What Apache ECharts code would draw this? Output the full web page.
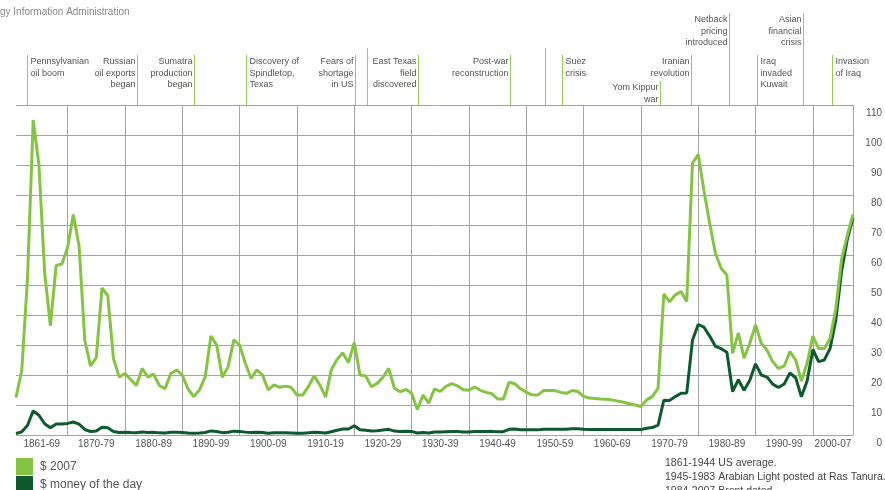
<!DOCTYPE html>
<html><head><meta charset="utf-8">
<script src="https://cdn.jsdelivr.net/npm/echarts@6/dist/echarts.min.js"></script>
<style>html,body{margin:0;padding:0;background:#fff}#c{width:885px;height:490px}</style>
</head><body><div id="c"></div>
<script>
// ---- data ----
const START_YEAR = 1861;
const priceMoneyOfDay = [
  0.49, 1.05, 3.15, 8.06, 6.59, 3.74, 2.41, 3.63, 3.64,
  3.86, 4.34, 3.64, 1.83, 1.17, 1.35, 2.56, 2.42, 1.19, 0.86,
  0.95, 0.86, 0.78, 1.00, 0.84, 0.88, 0.71, 0.67, 0.88, 0.94,
  0.87, 0.67, 0.56, 0.64, 0.84, 1.36, 1.18, 0.79, 0.91, 1.29,
  1.19, 0.96, 0.80, 0.94, 0.86, 0.62, 0.73, 0.72, 0.72, 0.70,
  0.61, 0.61, 0.74, 0.95, 0.81, 0.64, 1.10, 1.56, 1.98, 2.01,
  3.07, 1.73, 1.61, 1.34, 1.43, 1.68, 1.88, 1.30, 1.17, 1.27,
  1.19, 0.65, 0.87, 0.67, 1.00, 0.97, 1.09, 1.18, 1.13, 1.02,
  1.02, 1.14, 1.19, 1.20, 1.21, 1.05, 1.12, 1.90, 1.99, 1.78,
  1.71, 1.71, 1.71, 1.93, 1.93, 1.93, 1.93, 1.90, 2.08, 2.08,
  1.90, 1.80, 1.80, 1.80, 1.80, 1.80, 1.80, 1.80, 1.80, 1.80,
  1.80, 2.24, 2.48, 3.29, 11.58, 11.53, 12.80, 13.92, 14.02, 31.61,
  36.83, 35.93, 32.97, 29.55, 28.78, 27.56, 14.43, 18.44, 14.92, 18.23,
  23.73, 20.00, 19.32, 16.97, 15.82, 17.02, 20.67, 19.09, 12.72, 17.97,
  28.50, 24.44, 25.02, 28.83, 38.27, 54.52, 65.14, 72.39
];
const price2007 = [
  12.5, 21.5, 52, 105, 90, 54, 36.5, 56.5, 57,
  62.5, 73.5, 63, 31.5, 23, 25.8, 49, 46.5, 25.5, 19.3,
  20.5, 18.5, 16.5, 22.2, 19.3, 20.3, 16.5, 15.4, 20.5, 21.7,
  20, 15.4, 12.8, 15, 19.4, 33, 30, 19.2, 22.8, 31.7,
  30, 23.9, 18.9, 21.7, 20, 15, 16.7, 15.9, 16.3, 15.9,
  13.3, 13.3, 16.1, 19.7, 16.7, 12.6, 21.7, 25.2, 27.4, 24.1,
  30.8, 20, 19.7, 16.1, 17.2, 19.2, 22.2, 15.6, 14.4, 15.2,
  14, 8.5, 13.3, 10.6, 15.4, 14.5, 16.2, 17.1, 16.4, 15.1,
  14.9, 16, 14.9, 14.2, 13.8, 12, 12, 17.6, 17.1, 15.4,
  14.3, 13.4, 13.3, 14.8, 14.8, 14.8, 14.2, 13.9, 14.8, 14.5,
  12.9, 12.3, 12.2, 12, 11.9, 11.7, 11.3, 10.9, 10.4, 10,
  9.5, 11.7, 12.8, 15.6, 47, 44.4, 46.7, 47.8, 44.5, 90.6,
  93.5, 81.5, 70.6, 60.6, 55.6, 53.3, 27.2, 34, 25.6, 30.6,
  36.7, 30.6, 28.3, 24.4, 22.2, 23, 27.8, 25, 18, 24,
  33, 28.8, 28.8, 32.2, 42, 58.5, 66.5, 73.5
];
const decadeLabels = ['1861-69','1870-79','1880-89','1890-99','1900-09','1910-19','1920-29',
  '1930-39','1940-49','1950-59','1960-69','1970-79','1980-89','1990-99','2000-07'];
const decadeBounds = [1861,1870,1880,1890,1900,1910,1920,1930,1940,1950,1960,1970,1980,1990,2000,2007];
const seriesNames = ['$ 2007', '$ money of the day'];
const eventYears = [1863, 1882, 1892, 1901, 1920, 1922, 1931, 1947, 1953, 1956, 1973, 1978.5, 1985, 1990, 1998, 2003];
const eventTexts = [
  'Pennsylvanian\noil boom', 'Russian\noil exports\nbegan', 'Sumatra\nproduction\nbegan',
  'Discovery of\nSpindletop,\nTexas', 'Fears of\nshortage\nin US', '',
  'East Texas\nfield\ndiscovered', 'Post-war\nreconstruction', '', 'Suez\ncrisis',
  'Yom Kippur\nwar', 'Iranian\nrevolution', 'Netback\npricing\nintroduced',
  'Iraq\ninvaded\nKuwait', 'Asian\nfinancial\ncrisis', 'Invasion\nof Iraq'
];
const footnote = '1861-1944 US average.\n1945-1983 Arabian Light posted at Ras Tanura.\n1984-2007 Brent dated';
const sourceText = 'gy Information Administration';

// ---- layout (not data) ----
const eventTop = [55,55,55,55,55,48,55,55,48,55,81,55,13,55,13,55];
const eventSide = ['r','l','l','r','l','r','l','l','r','r','l','l','l','r','l','r'];

const FONT = '"Liberation Sans", Arial, Helvetica, sans-serif';
const GRID = '#a3a3a3';
const LIGHT = '#85c443';
const DARK = '#0d5a2e';
const EVENT = '#93cc5a';

const labelPos = [], labelMap = {};
for (let i = 0; i < decadeLabels.length; i++) {
  const m = (decadeBounds[i] + decadeBounds[i+1]) / 2;
  labelPos.push(m); labelMap[m] = decadeLabels[i];
}
const tickPos = decadeBounds.slice(1);

const toPairs = arr => arr.map((v, i) => [START_YEAR + i, v]);

const chart = echarts.init(document.getElementById('c'), null, {renderer: 'canvas'});
chart.setOption({
  animation: false,
  textStyle: {fontFamily: FONT},
  grid: [
    {left: 16, right: 30, top: 105, bottom: 55},
    {left: 16, right: 30, top: 0, height: 105}
  ],
  xAxis: [
    {gridIndex: 0, type: 'value', min: 1861, max: 2007,
      axisLine: {show: false}, splitLine: {show: false},
      axisTick: {show: true, inside: true, length: 330, customValues: tickPos,
        lineStyle: {color: GRID, width: 1}},
      axisLabel: {customValues: labelPos, formatter: v => labelMap[v] || '',
        color: '#555', fontSize: 10, margin: 4}},
    {gridIndex: 1, type: 'value', min: 1861, max: 2007, show: false}
  ],
  yAxis: [
    {gridIndex: 0, type: 'value', position: 'right', min: 0, max: 110, interval: 10,
      axisLine: {show: false}, axisTick: {show: false},
      splitLine: {lineStyle: {color: GRID, width: 1}},
      axisLabel: {color: '#555', fontSize: 10, align: 'right', margin: 29,
        verticalAlign: 'top', padding: [3, 0, 0, 0]}},
    {gridIndex: 1, type: 'value', min: 0, max: 105, inverse: true, show: false}
  ],
  legend: {
    data: seriesNames, orient: 'vertical', left: 16, top: 458, height: 60, padding: 0,
    icon: 'rect', itemWidth: 17, itemHeight: 17, itemGap: 1, selectedMode: false,
    textStyle: {fontSize: 12, color: '#555', padding: [0, 0, 0, 2]}
  },
  graphic: [
    {type: 'text', left: 0, top: 7, style: {text: sourceText, fontSize: 10, fill: '#888', fontFamily: FONT}},
    {type: 'text', left: 665, top: 456, style: {text: footnote, fontSize: 10.5, lineHeight: 14, fill: '#444', fontFamily: FONT}}
  ],
  series: [
    {name: seriesNames[1], type: 'line', xAxisIndex: 0, yAxisIndex: 0, z: 3,
      data: toPairs(priceMoneyOfDay), showSymbol: false, symbol: 'none',
      itemStyle: {color: DARK}, lineStyle: {color: DARK, width: 3}},
    {name: seriesNames[0], type: 'line', xAxisIndex: 0, yAxisIndex: 0, z: 4,
      data: toPairs(price2007), showSymbol: false, symbol: 'none',
      itemStyle: {color: LIGHT}, lineStyle: {color: LIGHT, width: 3}},
    {type: 'custom', xAxisIndex: 1, yAxisIndex: 1, silent: true,
      data: eventYears.map((y, i) => [y, eventTop[i]]),
      renderItem: function (params, api) {
        const i = params.dataIndex;
        const yr = api.value(0);
        const p0 = api.coord([yr, 105]);
        const p1 = api.coord([yr, api.value(1)]);
        const x = Math.round(p0[0]) + 0.5;
        const children = [{type: 'line', shape: {x1: x, y1: p1[1], x2: x, y2: p0[1]},
          style: {stroke: EVENT, lineWidth: 1}}];
        const t = eventTexts[i];
        if (t) {
          const left = eventSide[i] === 'l';
          children.push({type: 'text', style: {text: t, x: left ? x - 2 : x + 3, y: p1[1] + 0.5,
            align: left ? 'right' : 'left', verticalAlign: 'top', fontSize: 9, lineHeight: 11.8,
            fill: '#555', fontFamily: FONT}});
        }
        return {type: 'group', children: children};
      }}
  ]
});
</script></body></html>
